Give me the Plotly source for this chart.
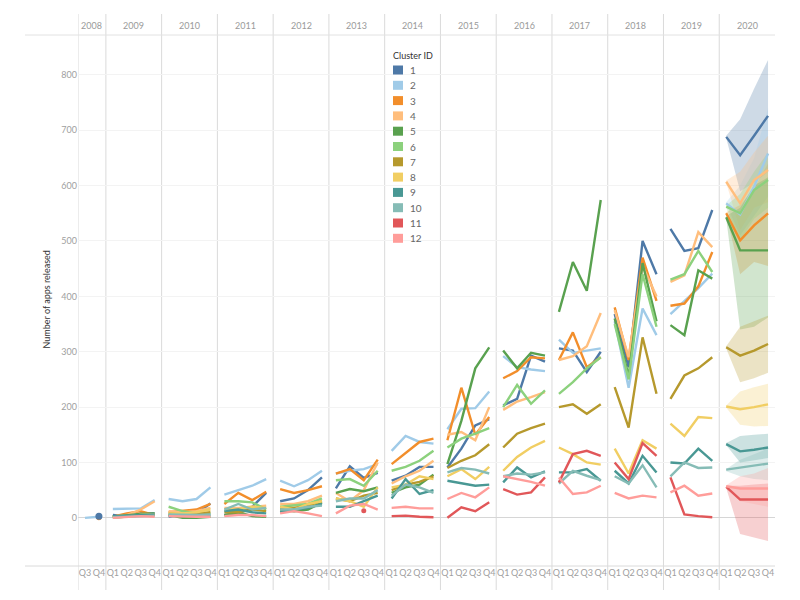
import plotly.graph_objects as go

# ---------------- data ----------------
years = [2008, 2009, 2010, 2011, 2012, 2013, 2014, 2015, 2016, 2017, 2018, 2019, 2020]
quarter_labels = ["Q3", "Q4"] + ["Q1", "Q2", "Q3", "Q4"] * 12
year_of_quarter = [2008, 2008] + [y for y in years[1:] for _ in range(4)]
cluster_ids = ["1", "2", "3", "4", "5", "6", "7", "8", "9", "10", "11", "12"]
cluster_colors = ["#4E79A7", "#A0CBE8", "#F28E2B", "#FFBE7D", "#59A14F", "#8CD17D",
                  "#B6992D", "#F1CE63", "#499894", "#86BCB6", "#E15759", "#FF9D9A"]

N = None
#            2008      2009            2010            2011            2012            2013             2014               2015                2016                2017                2018                2019                2020
cluster_1 = [N, 3,   5, 2, 8, 8,     2, 6, 8, 26,    5, 8, 20, 45,   30, 35, 50, 73, 53, 93, 72, 81,   67, 76, 92, 92,    91, 125, 167, 178,  203, 215, 293, 282, 306, 302, 263, 300, 368, 272, 500, 440, 522, 482, 487, 556, 688, 655, 690, 726]
cluster_2 = [0, 2,   16, 16, 17, 32, 34, 30, 34, 55, 42, 50, 58, 70, 67, 57, 68, 85,  80, 85, 88, 97,   121, 148, 137, 134, 160, 197, 198, 228, 292, 272, 268, 265, 322, 298, 302, 306, 355, 235, 378, 330, 368, 392, 415, 441, 568, 548, 598, 658]
cluster_3 = [N, 0,   2, 8, 12, 5,    10, 12, 15, 25, 25, 45, 32, 47, 52, 45, 50, 57,  80, 88, 68, 105,  97, 117, 137, 143, 140, 235, 150, 182, 252, 265, 290, 288, 285, 335, 272, 290, 380, 285, 470, 392, 383, 387, 418, 480, 550, 501, 528, 550]
cluster_4 = [N, N,   2, 5, 15, 30,   12, 10, 12, 18, 18, 18, 20, 22, 25, 25, 30, 40,  45, 30, 50, 100,  62, 75, 85, 103,   150, 155, 140, 200, 195, 210, 218, 227, 285, 292, 310, 370, 375, 290, 455, 400, 426, 438, 516, 489, 607, 568, 610, 628]
cluster_5 = [N, N,   2, 5, 7, 8,     5, 0, 0, 2,     5, 10, 3, 2,    15, 12, 15, 28,  45, 52, 48, 55,   45, 55, 60, 78,    97, 175, 270, 308,  302, 270, 298, 293, 372, 462, 410, 574, 360, 255, 460, 355, 348, 330, 447, 432, 543, 483, 483, 483]
cluster_6 = [N, N,   0, 3, 5, 6,     20, 12, 8, 8,   30, 30, 28, 15, 20, 22, 25, 35,  68, 70, 58, 85,   85, 92, 103, 121,  127, 143, 152, 162, 200, 240, 206, 230, 224, 245, 270, 290, 350, 250, 440, 345, 430, 440, 482, 444, 562, 550, 592, 610]
cluster_7 = [N, N,   2, 3, 5, 5,     8, 6, 8, 10,    10, 10, 15, 12, 18, 18, 22, 30,  35, 30, 40, 45,   50, 60, 65, 75,    90, 103, 113, 133,  127, 152, 162, 170, 200, 205, 188, 205, 236, 163, 326, 224, 215, 257, 270, 290, 308, 293, 302, 314]
cluster_8 = [N, N,   0, 3, 5, 6,     8, 8, 10, 15,   15, 15, 20, 18, 20, 15, 25, 30,  35, 30, 20, 55,   55, 60, 75, 70,    75, 88, 70, 92,     85, 110, 127, 139,  127, 115, 100, 96,  125, 80, 140, 125,  170, 148, 182, 180, 201, 196, 200, 205]
cluster_9 = [N, N,   3, 4, 5, 6,     5, 3, 3, 5,     12, 15, 10, 8,  10, 15, 18, 25,  20, 20, 30, 40,   35, 70, 43, 50,    67, 62, 58, 60,     64, 91, 73, 84,     82, 82, 88, 67,     85, 62, 112, 82,    100, 98, 125, 103, 133, 120, 123, 127]
cluster_10 = [N, N,  1, 2, 3, 4,     6, 5, 5, 6,     15, 25, 15, 18, 15, 15, 20, 22,  30, 35, 35, 50,   40, 60, 55, 45,    82, 90, 87, 80,     75, 80, 78, 82,     62, 85, 76, 68,     75, 62, 95, 55,     75, 100, 90, 91,    87, 91, 94, 98]
cluster_11 = [N, N,  N, N, N, N,     N, N, N, N,     N, N, N, N,     N, N, N, N,      N, N, 13, N,     3, 4, 2, 1,        0, 19, 12, 28,      52, 42, 46, 73,     64, 115, 121, 112,  100, 70, 135, 112,  73, 6, 3, 1,        56, 33, 33, 33]
cluster_12 = [N, N,  0, 2, 3, 2,     3, 2, 2, 2,     3, 5, 5, 3,     8, 12, 8, 3,     8, 22, 25, 15,   18, 20, 17, 17,    34, 45, 37, 55,     75, 70, 65, 58,     73, 43, 46, 58,     45, 35, 40, 37,     46, 58, 40, 44,     57, 53, 53, 53]

# 2020 forecast prediction intervals (Q1..Q4), one row per cluster
forecast_upper = [
    [690, 720, 775, 827], [570, 600, 650, 740], [552, 565, 595, 640], [609, 625, 660, 690],
    [545, 560, 600, 615], [564, 585, 625, 660], [310, 345, 355, 365], [203, 228, 236, 242],
    [135, 148, 150, 152], [88, 105, 115, 125], [58, 58, 60, 62], [59, 75, 80, 90],
]
forecast_lower = [
    [686, 590, 605, 625], [566, 510, 545, 580], [548, 440, 462, 455], [605, 520, 560, 570],
    [541, 340, 345, 362], [560, 500, 540, 560], [306, 245, 252, 262], [199, 168, 165, 166],
    [131, 100, 104, 108], [84, 75, 70, 68], [54, -29, -36, -42], [55, 30, 25, 20],
]

clusters = [cluster_1, cluster_2, cluster_3, cluster_4, cluster_5, cluster_6,
            cluster_7, cluster_8, cluster_9, cluster_10, cluster_11, cluster_12]

# ---------------- figure ----------------
FONT = "Lato"
W, H = 800, 600
ML, MR, MT, MB = 78, 25, 35, 34
PW, PH = W - ML - MR, H - MT - MB

def px_x(p):
    return (p - ML) / PW

def px_y(p):
    return (H - MB - p) / PH

fig = go.Figure()
n_q = len(quarter_labels)
idx = list(range(n_q))
forecast_idx = [i for i in idx if year_of_quarter[i] == 2020]


def hex_rgba(h, a):
    h = h.lstrip("#")
    return "rgba(%d,%d,%d,%.2f)" % (int(h[0:2], 16), int(h[2:4], 16), int(h[4:6], 16), a)


# forecast bands
for k, cid in enumerate(cluster_ids):
    xs = forecast_idx + forecast_idx[::-1]
    ys = forecast_upper[k] + forecast_lower[k][::-1]
    fig.add_trace(go.Scatter(x=xs, y=ys, fill="toself", mode="lines",
                             line=dict(width=0), fillcolor=hex_rgba(cluster_colors[k], 0.28),
                             hoverinfo="skip", showlegend=False))

# lines, broken at every year pane
isolated = []
for k, cid in enumerate(cluster_ids):
    vals = clusters[k]
    xs, ys = [], []
    for y in years:
        seg = [i for i in idx if year_of_quarter[i] == y and vals[i] is not None]
        if not seg:
            continue
        if len(seg) == 1:
            isolated.append((k, seg[0], vals[seg[0]]))
        xs += seg + [None]
        ys += [vals[i] for i in seg] + [None]
    fig.add_trace(go.Scatter(x=xs, y=ys, mode="lines", connectgaps=False,
                             line=dict(color=cluster_colors[k], width=2.4),
                             showlegend=False, name=cid))

for k, xi, v in sorted(isolated, key=lambda t: -t[0]):
    fig.add_trace(go.Scatter(x=[xi], y=[v], mode="markers",
                             marker=dict(color=cluster_colors[k], size=7 if k == 0 else 5),
                             showlegend=False))

# pane separators
seps = [-0.5, 1.5] + [1.5 + 4 * j for j in range(1, 12)]
for s in seps:
    fig.add_shape(type="line", xref="x", yref="paper", x0=s, x1=s, y0=px_y(590), y1=px_y(14),
                  line=dict(color="#dadada", width=1), layer="below")
fig.add_shape(type="line", xref="paper", yref="paper", x0=px_x(25), x1=1, y0=1.0, y1=1.0,
              line=dict(color="#e2e2e2", width=1))
fig.add_shape(type="line", xref="paper", yref="paper", x0=px_x(25), x1=1, y0=0, y1=0,
              line=dict(color="#dadada", width=1))

# year headers
for y in years:
    qs = [i for i in idx if year_of_quarter[i] == y]
    fig.add_annotation(x=(qs[0] + qs[-1]) / 2, y=px_y(25), xref="x", yref="paper",
                       text=str(y), showarrow=False, yanchor="middle",
                       font=dict(family=FONT, size=9, color="#9a9a9a"))

fig.add_annotation(x=px_x(38), y=px_y(300), xref="paper", yref="paper", text="Number of apps released",
                   textangle=-90, showarrow=False, font=dict(family=FONT, size=9, color="#333333"))

# legend (drawn as shapes + text to match the compact Tableau spacing)
fig.add_annotation(x=px_x(391), y=px_y(56), xref="paper", yref="paper", text="Cluster ID",
                   xanchor="left", yanchor="middle", showarrow=False,
                   font=dict(family=FONT, size=9, color="#333333"))
for k, cid in enumerate(cluster_ids):
    cy = 70 + 15.3 * k
    fig.add_shape(type="rect", xref="paper", yref="paper",
                  x0=px_x(393), x1=px_x(403), y0=px_y(cy + 4.5), y1=px_y(cy - 4.5),
                  fillcolor=cluster_colors[k], line=dict(width=0))
    fig.add_annotation(x=px_x(408), y=px_y(cy), xref="paper", yref="paper", text=cid,
                       xanchor="left", yanchor="middle", showarrow=False,
                       font=dict(family=FONT, size=10, color="#666666"))

fig.update_layout(
    width=W, height=H,
    margin=dict(l=ML, r=MR, t=MT, b=MB),
    plot_bgcolor="white", paper_bgcolor="white", showlegend=False,
    font=dict(family=FONT, size=9, color="#999999"),
    xaxis=dict(range=[-0.5, n_q - 0.5], tickvals=idx, ticktext=quarter_labels, tickangle=0,
               showgrid=False, zeroline=False, showline=False, ticks="",
               tickfont=dict(family=FONT, size=9, color="#a0a0a0")),
    yaxis=dict(range=[-87, 872], tickvals=[0, 100, 200, 300, 400, 500, 600, 700, 800],
               showgrid=True, gridcolor="#f3f3f3", zeroline=True, zerolinecolor="#d6d6d6",
               zerolinewidth=1, showline=False, ticks="",
               tickfont=dict(family=FONT, size=9, color="#a0a0a0")),
)

fig.write_html("out.html", config={"displayModeBar": False},
               post_script="document.body.style.margin='0';")
